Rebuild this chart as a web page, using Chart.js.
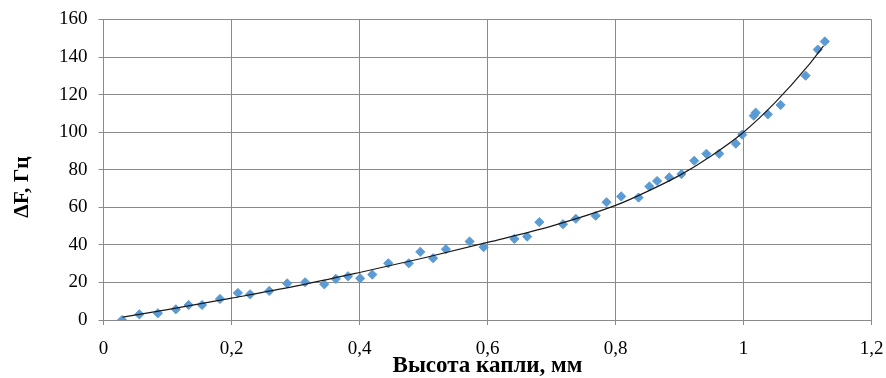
<!DOCTYPE html>
<html>
<head>
<meta charset="utf-8">
<script src="https://cdn.jsdelivr.net/npm/chart.js@4"></script>
<style>
  html, body { margin: 0; padding: 0; background: #ffffff; }
  #wrap { width: 886px; height: 378px; position: relative; }
</style>
</head>
<body>
<div id="wrap"><canvas id="chart" width="886" height="378"></canvas></div>
<script>
// Drop height (mm) and the measured frequency shift ΔF (Hz)
const dropHeight = [
  0.029, 0.056, 0.085, 0.113, 0.133, 0.154, 0.182, 0.210, 0.229, 0.259,
  0.287, 0.315, 0.345, 0.363, 0.382, 0.401, 0.420, 0.445, 0.477, 0.495,
  0.515, 0.535, 0.572, 0.594, 0.642, 0.662, 0.681, 0.718, 0.738, 0.769,
  0.786, 0.809, 0.836, 0.853, 0.865, 0.884, 0.903, 0.923, 0.942, 0.962,
  0.988, 0.998, 1.016, 1.019, 1.038, 1.058, 1.097, 1.116, 1.127
];
const freqShift = [
  0.0, 3.0, 3.6, 5.7, 8.0, 8.0, 11.2, 14.4, 13.7, 15.5,
  19.5, 20.1, 19.0, 21.9, 23.3, 22.2, 24.2, 30.2, 30.2, 36.3,
  32.9, 37.7, 41.8, 38.8, 43.2, 44.4, 52.1, 51.0, 53.9, 55.5,
  62.7, 65.8, 65.2, 71.1, 74.0, 75.9, 77.7, 84.8, 88.5, 88.5,
  93.9, 98.7, 108.8, 110.4, 109.5, 114.5, 130.1, 144.0, 148.3
];

// Trend curve through the measurements
const trendX = [0.03, 0.10, 0.20, 0.30, 0.40, 0.50, 0.60, 0.70, 0.80, 0.85, 0.90, 0.95, 1.00, 1.05, 1.10, 1.125];
const trendY = [1.5, 5.5, 11.6, 18.0, 25.3, 33.0, 41.3, 50.0, 61.0, 68.5, 77.0, 87.5, 100.0, 116.0, 135.0, 146.0];

// Axis tick labels
const xTickLabels = ['0', '0,2', '0,4', '0,6', '0,8', '1', '1,2'];
const yTickLabels = ['0', '20', '40', '60', '80', '100', '120', '140', '160'];

const xTitle = 'Высота капли, мм';
const yTitle = 'ΔF, Гц';

const gridColor = '#8a8a8a';
const textColor = '#000000';

const yTitlePlugin = {
  id: 'yTitle',
  afterDraw(chart) {
    const ctx = chart.ctx;
    ctx.save();
    ctx.translate(22, 187);
    ctx.rotate(-Math.PI / 2);
    ctx.font = 'bold 21.5px "Liberation Serif", "Times New Roman", serif';
    ctx.fillStyle = textColor;
    ctx.textAlign = 'center';
    ctx.textBaseline = 'middle';
    ctx.fillText(yTitle, 0, 0);
    ctx.restore();
  }
};

new Chart(document.getElementById('chart'), {
  type: 'scatter',
  data: {
    datasets: [
      {
        label: 'trend',
        type: 'line',
        data: trendX.map((x, i) => ({ x, y: trendY[i] })),
        borderColor: '#1a1a1a',
        borderWidth: 1.2,
        pointRadius: 0,
        fill: false,
        cubicInterpolationMode: 'monotone',
        order: 1
      },
      {
        label: 'ΔF',
        data: dropHeight.map((x, i) => ({ x, y: freqShift[i] })),
        pointStyle: 'rectRot',
        pointRadius: 4.6,
        pointHoverRadius: 4.6,
        backgroundColor: '#5b9bd5',
        borderColor: '#5b9bd5',
        borderWidth: 1,
        order: 2
      }
    ]
  },
  options: {
    responsive: false,
    animation: false,
    events: [],
    layout: { padding: { left: 0, right: 14.5, top: 19.5, bottom: 0 } },
    plugins: {
      legend: { display: false },
      tooltip: { enabled: false }
    },
    scales: {
      x: {
        type: 'linear',
        min: 0,
        max: 1.2,
        afterFit(scale) {
          scale.height = 58;
          scale.paddingLeft = 0;
          scale.paddingRight = 0;
        },
        afterBuildTicks(scale) {
          scale.ticks = xTickLabels.map((_, i) => ({ value: i * 0.2 }));
        },
        ticks: {
          callback: (v, i) => xTickLabels[i],
          color: textColor,
          font: { family: '"Liberation Serif", "Times New Roman", serif', size: 19 },
          padding: 13,
          maxRotation: 0,
          autoSkip: false
        },
        grid: { color: gridColor, lineWidth: 1, tickLength: 5, drawTicks: true },
        border: { color: gridColor, width: 1 },
        title: {
          display: true,
          text: xTitle,
          color: textColor,
          font: { family: '"Liberation Serif", "Times New Roman", serif', size: 23, weight: 'bold', lineHeight: 1 },
          padding: { top: 0, bottom: 0 }
        }
      },
      y: {
        type: 'linear',
        min: 0,
        max: 160,
        afterFit(scale) {
          scale.width = 103.5;
          scale.paddingTop = 0;
          scale.paddingBottom = 0;
        },
        afterBuildTicks(scale) {
          scale.ticks = yTickLabels.map((_, i) => ({ value: i * 20 }));
        },
        ticks: {
          callback: (v, i) => yTickLabels[i],
          color: textColor,
          font: { family: '"Liberation Serif", "Times New Roman", serif', size: 19 },
          padding: 11
        },
        grid: { color: gridColor, lineWidth: 1, tickLength: 5, drawTicks: true },
        border: { color: gridColor, width: 1 }
      }
    }
  },
  plugins: [yTitlePlugin]
});
</script>
</body>
</html>
